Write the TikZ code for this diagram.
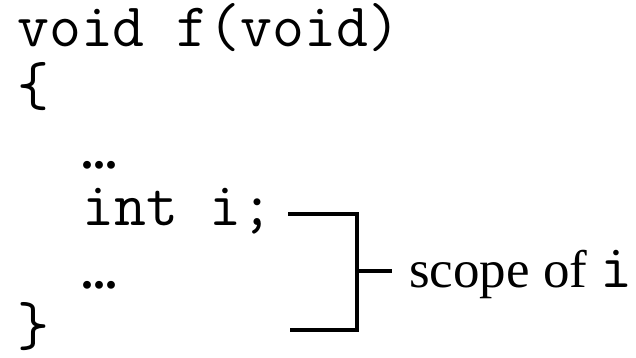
\documentclass[tikz,border=0pt]{standalone}
\usepackage{fontspec}
\setmainfont{Liberation Serif}
\usetikzlibrary{positioning}

\begin{document}
\begin{tikzpicture}[
  x=1pt, y=-1pt,
  code/.style={font=\fontsize{62}{62}\selectfont\ttfamily, anchor=base west, inner sep=0pt},
  gap/.style={font=\fontsize{48}{48}\selectfont\bfseries, anchor=base west, inner sep=0pt},
  note/.style={font=\fontsize{53}{60}\selectfont, anchor=base west, inner sep=0pt},
  bracket/.style={line width=4pt}
]
\useasboundingbox (0,0) rectangle (636,358);

% the function body
\node (sig) [code] at (17,47) {void f(void)};
\node (open) [code] at (17,106) {\{};
\node (dotsA) [gap] at (81,168) {...};
\node (decl) [code] at (82,225) {int i;};
\node (dotsB) [gap] at (81,288) {...};
\node (close) [code] at (17,345) {\}};

% the scope bracket
\coordinate (topL) at (288,214);
\coordinate (topR) at (357,214);
\coordinate (botR) at (357,330);
\coordinate (botL) at (290,330);
\coordinate (mid) at (357,271);
\coordinate (tick) at (392,271);
\draw[bracket] (topL) -- (topR) -- (botR) -- (botL);
\draw[bracket] (mid) -- (tick);

\node (scope) [note] at (409,287) {scope of \texttt{\fontsize{62}{62}\selectfont i}};

\end{tikzpicture}
\end{document}
